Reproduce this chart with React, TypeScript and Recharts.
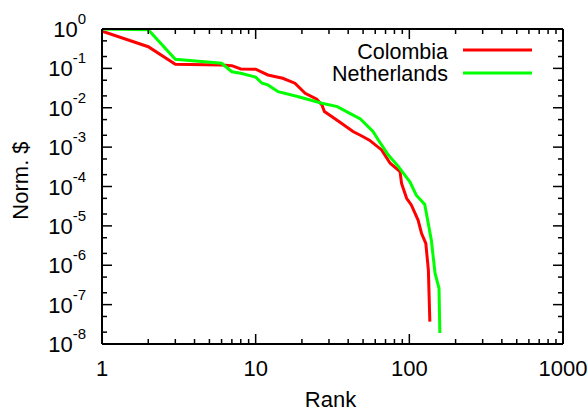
import React from 'react';
import { LineChart, Line, XAxis, YAxis, Legend } from 'recharts';

const FONT = '"Liberation Sans", Arial, Helvetica, sans-serif';

// values (rank vs normalised $)
const colombiaRank = [1, 2, 3, 6, 7, 8, 10, 12, 15, 18, 21, 25, 27, 28, 35, 43, 48, 55, 66, 75, 87, 89, 96, 103, 114, 120, 128, 133, 136];
const colombiaValue = [
  0.88, 0.355, 0.127, 0.122, 0.117, 0.097, 0.095, 0.068, 0.056, 0.042, 0.0233, 0.0164, 0.0118, 0.008, 0.0044,
  0.0025, 0.002, 0.0015, 8.5e-4, 3.9e-4, 2.4e-4, 1.2e-4, 5e-5, 3.4e-5, 1.4e-5, 6.5e-6, 3.6e-6, 7.6e-7, 3.7e-8,
];

const netherlandsRank = [1, 2, 3, 6, 7, 8, 10, 11, 12, 14, 19, 27, 34, 41, 48, 58, 63, 73, 85, 101, 111, 126, 139, 147, 156, 158];
const netherlandsValue = [
  1, 0.96, 0.17, 0.135, 0.082, 0.075, 0.06, 0.042, 0.038, 0.0256, 0.019, 0.013, 0.0107, 0.0072, 0.0052, 0.0025,
  0.0015, 6.3e-4, 3.2e-4, 1.3e-4, 6e-5, 3.5e-5, 4.4e-6, 6.3e-7, 2.6e-7, 1.9e-8,
];

const xMajor = [1, 10, 100, 1000];
const xMinorSteps = [2, 3, 4, 5, 6, 7, 8, 9];
const yMajorExp = [0, -1, -2, -3, -4, -5, -6, -7, -8];
const yMinorSteps = [2, 5];

const xTicks = [...xMajor, ...xMajor.slice(0, 3).flatMap(d => xMinorSteps.map(s => s * d))];
const yMajor = yMajorExp.map(e => Math.pow(10, e));
const yTicks = [...yMajor, ...yMajorExp.slice(1).flatMap(e => yMinorSteps.map(s => s * Math.pow(10, e)))];

const colombia = colombiaRank.map((r, i) => ({ rank: r, value: colombiaValue[i] }));
const netherlands = netherlandsRank.map((r, i) => ({ rank: r, value: netherlandsValue[i] }));

const isMajorX = (v: number) => xMajor.includes(v);
const isMajorY = (v: number) => yMajor.some(m => Math.abs(m - v) / m < 1e-6);

const BottomTick = ({ x, y, payload }: any) => {
  const major = isMajorX(payload.value);
  return (
    <g>
      <line x1={x} x2={x} y1={y} y2={y - (major ? 10 : 5)} stroke="#000" strokeWidth={1.5} />
      {major && (
        <text x={x} y={y + 32} textAnchor="middle" fontSize={22} fontFamily={FONT} fill="#000">
          {payload.value}
        </text>
      )}
    </g>
  );
};

const TopTick = ({ x, y, payload }: any) => {
  const major = isMajorX(payload.value);
  return <line x1={x} x2={x} y1={y} y2={y + (major ? 10 : 5)} stroke="#000" strokeWidth={1.5} />;
};

const LeftTick = ({ x, y, payload }: any) => {
  const major = isMajorY(payload.value);
  const exp = Math.round(Math.log10(payload.value));
  return (
    <g>
      <line x1={x} x2={x + (major ? 10 : 5)} y1={y} y2={y} stroke="#000" strokeWidth={1.5} />
      {major && (
        <text x={x - 16} y={y + 8} textAnchor="end" fontSize={22} fontFamily={FONT} fill="#000">
          10<tspan dy={-13} fontSize={15}>{`${exp}`}</tspan>
        </text>
      )}
    </g>
  );
};

const RightTick = ({ x, y, payload }: any) => {
  const major = isMajorY(payload.value);
  return <line x1={x} x2={x - (major ? 10 : 5)} y1={y} y2={y} stroke="#000" strokeWidth={1.5} />;
};

const renderLegend = (props: any) => {
  const { payload } = props;
  return (
    <svg width={240} height={52}>
      {payload.map((entry: any, i: number) => (
        <g key={entry.value}>
          <text x={148} y={23.5 + i * 22} textAnchor="end" fontSize={21.5} fontFamily={FONT} fill="#000">
            {entry.value}
          </text>
          <line x1={163} x2={232} y1={15 + i * 23} y2={15 + i * 23} stroke={entry.color} strokeWidth={3} />
        </g>
      ))}
    </svg>
  );
};

export default function App() {
  return (
    <div style={{ position: 'absolute', left: 0, top: 0, background: '#fff' }}>
      <LineChart width={588} height={411} margin={{ top: 0, right: 0, bottom: 0, left: 0 }}>
        <XAxis
          dataKey="rank"
          type="number"
          scale="log"
          domain={[1, 1000]}
          allowDataOverflow
          ticks={xTicks}
          interval={0}
          tickSize={0}
          tickMargin={0}
          tickLine={false}
          tick={BottomTick}
          height={67}
          axisLine={{ stroke: '#000', strokeWidth: 2 }}
          label={{
            content: (p: any) => {
              const vb = p.viewBox;
              return (
                <text x={vb.x + vb.width / 2 - 2} y={vb.y + 63} textAnchor="middle" fontSize={22} fontFamily={FONT} fill="#000">
                  Rank
                </text>
              );
            },
          }}
        />
        <XAxis
          xAxisId="top"
          orientation="top"
          dataKey="rank"
          type="number"
          scale="log"
          domain={[1, 1000]}
          allowDataOverflow
          ticks={xTicks}
          interval={0}
          tickSize={0}
          tickMargin={0}
          tickLine={false}
          tick={TopTick}
          height={29}
          axisLine={{ stroke: '#000', strokeWidth: 2 }}
        />
        <YAxis
          type="number"
          scale="log"
          domain={[1e-8, 1]}
          allowDataOverflow
          ticks={yTicks}
          interval={0}
          tickSize={0}
          tickMargin={0}
          tickLine={false}
          tick={LeftTick}
          width={102}
          axisLine={{ stroke: '#000', strokeWidth: 2 }}
          label={{
            content: (p: any) => {
              const vb = p.viewBox;
              const cy = vb.y + vb.height / 2 - 6;
              return (
                <text
                  x={28}
                  y={cy}
                  transform={`rotate(-90, 28, ${cy})`}
                  textAnchor="middle"
                  fontSize={22}
                  fontFamily={FONT}
                  fill="#000"
                >
                  Norm. $
                </text>
              );
            },
          }}
        />
        <YAxis
          yAxisId="right"
          orientation="right"
          type="number"
          scale="log"
          domain={[1e-8, 1]}
          allowDataOverflow
          ticks={yTicks}
          interval={0}
          tickSize={0}
          tickMargin={0}
          tickLine={false}
          tick={RightTick}
          width={25}
          axisLine={{ stroke: '#000', strokeWidth: 2 }}
        />
        <Legend
          layout="horizontal"
          verticalAlign="middle"
          align="center"
          content={renderLegend}
          wrapperStyle={{ left: 300, top: 35, bottom: 'auto', right: 'auto', width: 240, height: 52 }}
        />
        <Line
          data={colombia}
          dataKey="value"
          name="Colombia"
          type="linear"
          stroke="#ff0000"
          strokeWidth={3}
          dot={false}
          activeDot={false}
          isAnimationActive={false}
        />
        <Line
          data={netherlands}
          dataKey="value"
          name="Netherlands"
          type="linear"
          stroke="#00ff00"
          strokeWidth={3}
          dot={false}
          activeDot={false}
          isAnimationActive={false}
        />
      </LineChart>
    </div>
  );
}
